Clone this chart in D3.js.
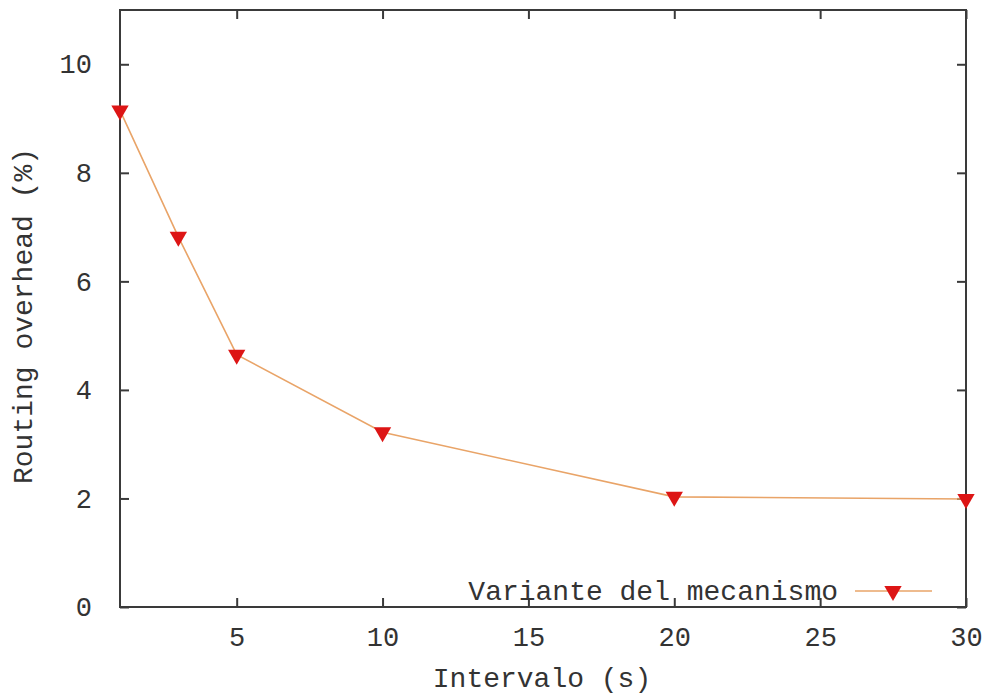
<!DOCTYPE html>
<html>
  <head>
    <meta charset="utf-8">
    <title>Routing overhead</title>
    <script src="https://cdn.jsdelivr.net/npm/d3@7"></script>
    <style>
      body { margin: 0; background: #fff; }
      text { font-family: "Liberation Mono", "Courier New", monospace; fill: #333; }
    </style>
  </head>
  <body>
    <svg id="chart" width="994" height="695"></svg>
    <script>
      // data
      var intervals = [1, 3, 5, 10, 20, 30];
      var overhead = [9.15, 6.82, 4.65, 3.22, 2.03, 1.99];
      var xTicks = [5, 10, 15, 20, 25, 30];
      var yTicks = [0, 2, 4, 6, 8, 10];
      var seriesName = "Variante del mecanismo";

      var svg = d3.select("#chart");
      // plot box (note: "top" is taken by window.top)
      var pLeft = 120, pTop = 10, pRight = 966, pBottom = 607;

      var x = d3.scaleLinear().domain([1, 30]).range([pLeft, pRight]);
      var y = d3.scaleLinear().domain([0, 11]).range([pBottom, pTop]);

      var axisColor = "#3a3a3a";
      var tickLen = 9;

      // tick marks, mirrored on all sides, pointing inward
      var ax = svg.append("g");
      ax.append("g").attr("transform", "translate(0," + pBottom + ")")
        .call(d3.axisBottom(x).tickValues(xTicks).tickSize(-tickLen).tickPadding(20));
      ax.append("g").attr("transform", "translate(0," + pTop + ")")
        .call(d3.axisTop(x).tickValues(xTicks).tickSize(-tickLen).tickFormat(""));
      ax.append("g").attr("transform", "translate(" + pLeft + ",0)")
        .call(d3.axisLeft(y).tickValues(yTicks).tickSize(-tickLen).tickPadding(28));
      ax.append("g").attr("transform", "translate(" + pRight + ",0)")
        .call(d3.axisRight(y).tickValues(yTicks).tickSize(-tickLen).tickFormat(""));
      ax.selectAll(".domain").remove();
      ax.selectAll(".tick line").attr("stroke", axisColor).attr("stroke-width", 2);
      ax.selectAll(".tick text").attr("font-size", 27).attr("fill", "#333")
        .attr("font-family", "Liberation Mono, monospace");

      svg.append("rect")
        .attr("x", pLeft).attr("y", pTop)
        .attr("width", pRight - pLeft).attr("height", pBottom - pTop)
        .attr("fill", "none").attr("stroke", axisColor).attr("stroke-width", 2);

      // series
      var pts = intervals.map(function(d, i) { return {t: d, v: overhead[i]}; });
      var line = d3.line()
        .x(function(d) { return x(d.t); })
        .y(function(d) { return y(d.v); });

      var lineColor = "#e9a468", markColor = "#dd1515";
      svg.append("path").attr("d", line(pts))
        .attr("fill", "none").attr("stroke", lineColor).attr("stroke-width", 1.6);

      var tri = d3.symbol().type(d3.symbolTriangle).size(130);
      svg.selectAll(".mark").data(pts).enter().append("path")
        .attr("class", "mark")
        .attr("d", tri)
        .attr("transform", function(d) { return "translate(" + x(d.t) + "," + y(d.v) + ") rotate(180)"; })
        .attr("fill", markColor);

      // legend
      var lg = svg.append("g");
      lg.append("text").attr("x", 838).attr("y", 600)
        .attr("text-anchor", "end").attr("font-size", 28).text(seriesName);
      lg.append("line").attr("x1", 855).attr("x2", 932).attr("y1", 591).attr("y2", 591)
        .attr("stroke", lineColor).attr("stroke-width", 1.6);
      lg.append("path").attr("d", tri)
        .attr("transform", "translate(893,591) rotate(180)").attr("fill", markColor);

      // axis titles
      svg.append("text").attr("x", 542).attr("y", 687)
        .attr("text-anchor", "middle").attr("font-size", 28).text("Intervalo (s)");
      svg.append("text").attr("transform", "translate(32,316) rotate(-90)")
        .attr("text-anchor", "middle").attr("font-size", 28).text("Routing overhead (%)");
    </script>
  </body>
</html>
